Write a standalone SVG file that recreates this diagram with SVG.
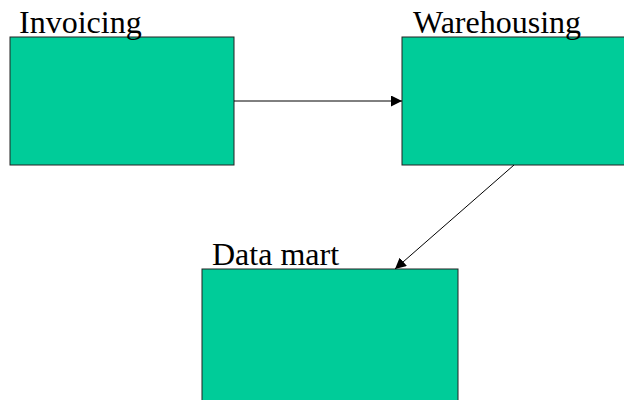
<svg xmlns="http://www.w3.org/2000/svg" width="624" height="400" viewBox="0 0 624 400">
<style>
.box{fill:#00CC99;stroke:#222;stroke-width:1}
.lbl{font-family:"Liberation Serif",serif;font-size:32px;fill:#000}
.con{stroke:#000;stroke-width:1;fill:none;marker-end:url(#ah)}
</style>
<defs>
<marker id="ah" viewBox="0 0 10 10" refX="10" refY="5" markerWidth="11" markerHeight="11" markerUnits="userSpaceOnUse" orient="auto">
<path d="M0,0 L10,5 L0,10 z" fill="#000"/>
</marker>
</defs>
<rect width="624" height="400" fill="#fff"/>
<g id="invoicing">
<rect class="box" x="10" y="37" width="224" height="128"/>
<text class="lbl" x="19" y="33">Invoicing</text>
</g>
<g id="warehousing">
<rect class="box" x="402" y="37" width="230" height="128"/>
<text class="lbl" x="413" y="33">Warehousing</text>
</g>
<g id="datamart">
<rect class="box" x="202" y="269" width="256" height="140"/>
<text class="lbl" x="212" y="265">Data mart</text>
</g>
<g id="connectors">
<line class="con" x1="234" y1="101" x2="402" y2="101"/>
<line class="con" x1="514" y1="165" x2="395" y2="269"/>
</g>
</svg>
